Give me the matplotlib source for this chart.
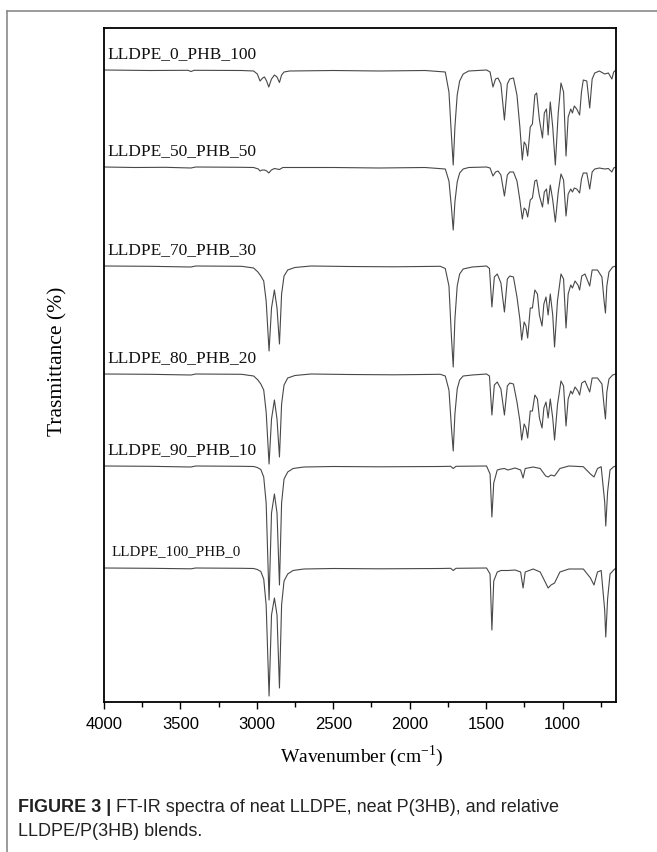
import matplotlib
matplotlib.use("Agg")
import matplotlib.pyplot as plt
from matplotlib.lines import Line2D
from matplotlib.ticker import MultipleLocator

# spectra: (wavenumber cm-1, dip depth below the trace baseline, a.u.)
phb_100 = [(4000, 0), (3700, 0.5), (3450, 0.3), (3431, 1.5), (3410, 0.3), (3100, 0.5),
           (3021, 1), (2997, 4), (2979, 11), (2962, 8), (2950, 7), (2936, 11), (2922, 17),
           (2904, 9), (2885, 5), (2868, 7), (2852, 12.5), (2838, 5), (2822, 2), (2786, 1),
           (2500, 0.5), (2200, 1), (1900, 0.5), (1767, 2), (1743, 22), (1727, 65), (1715, 95),
           (1704, 57), (1689, 25), (1673, 11), (1650, 4), (1614, 1), (1497, 0), (1474, 2),
           (1455, 17), (1438, 9), (1422, 8), (1403, 14), (1380, 50), (1361, 14), (1345, 9),
           (1321, 8), (1298, 25), (1279, 57), (1263, 90), (1251, 72), (1239, 75), (1228, 86),
           (1211, 57), (1197, 54), (1181, 25), (1169, 23), (1151, 50), (1131, 68), (1119, 43),
           (1105, 39), (1094, 65), (1080, 32), (1064, 57), (1047, 95), (1028, 43), (1010, 13),
           (993, 22), (977, 86), (963, 47), (946, 39), (935, 43), (923, 36), (907, 39),
           (888, 45), (876, 22), (864, 10), (841, 11), (822, 38), (806, 9), (789, 3),
           (759, 1), (724, 4), (700, 3), (677, 9), (665, 2), (650, 0)]

lldpe_50 = [(4000, 0), (3800, 0.5), (3600, 0.3), (3431, 1), (3400, 0), (3100, 0.3),
            (3021, 0.5), (2990, 2), (2979, 4), (2965, 3), (2950, 3), (2935, 4), (2922, 6),
            (2905, 3), (2885, 1.5), (2852, 2.5), (2830, 0.5), (2500, 0.5), (2200, 1),
            (1900, 0.5), (1767, 2), (1743, 14), (1727, 40), (1715, 63), (1704, 35), (1689, 15),
            (1673, 6), (1650, 2), (1614, 0.5), (1497, 0), (1474, 1), (1455, 9), (1438, 5),
            (1422, 4), (1403, 8), (1380, 29), (1361, 8), (1345, 5), (1321, 5), (1298, 14),
            (1279, 33), (1263, 52), (1251, 41), (1239, 43), (1228, 50), (1211, 33), (1197, 31),
            (1181, 14), (1169, 13), (1151, 29), (1131, 40), (1119, 25), (1105, 22), (1094, 37),
            (1080, 18), (1064, 33), (1047, 55), (1028, 25), (1010, 7), (993, 13), (977, 49),
            (963, 27), (946, 22), (935, 25), (923, 21), (907, 22), (888, 26), (876, 12),
            (864, 6), (841, 6), (822, 22), (806, 5), (789, 2), (759, 1), (724, 2), (700, 1.5),
            (677, 5), (665, 1), (650, 0)]

lldpe_70 = [(4000, 0), (3700, 0.3), (3431, 1), (3400, 0), (3100, 0.3), (3021, 2), (2993, 6),
            (2974, 10), (2955, 15), (2939, 35), (2920, 85), (2904, 42), (2885, 24), (2868, 42),
            (2852, 78), (2838, 28), (2822, 10), (2798, 4), (2751, 1.5), (2646, 0), (2400, 0.5),
            (2100, 0.8), (1800, 0.3), (1767, 2.5), (1743, 20), (1727, 70), (1715, 101),
            (1704, 53), (1689, 20), (1673, 8), (1650, 3), (1591, 1), (1497, 0), (1478, 2.5),
            (1462, 41), (1446, 11), (1427, 8), (1403, 17), (1380, 46), (1361, 13), (1345, 10),
            (1321, 11), (1298, 31), (1279, 53), (1267, 74), (1251, 56), (1239, 60), (1228, 72),
            (1211, 42), (1197, 42), (1181, 24), (1164, 28), (1151, 49), (1134, 60), (1122, 38),
            (1108, 31), (1094, 49), (1080, 28), (1064, 49), (1052, 81), (1033, 35), (1010, 8),
            (993, 13), (977, 62), (963, 28), (946, 19), (935, 22), (918, 15), (899, 19),
            (888, 24), (874, 10), (853, 8), (822, 20), (806, 4), (771, 4), (742, 11), (728, 35),
            (719, 47), (710, 20), (696, 6), (672, 1), (650, 0)]

lldpe_80 = [(4000, 0), (3700, 0.3), (3431, 1), (3400, 0), (3100, 0.3), (3021, 2), (2993, 6),
            (2974, 10), (2955, 16), (2939, 38), (2920, 90), (2904, 45), (2885, 26), (2868, 45),
            (2852, 83), (2838, 30), (2822, 11), (2798, 4), (2751, 1.5), (2646, 0), (2400, 0.5),
            (2100, 0.8), (1800, 0.3), (1767, 2), (1743, 16), (1727, 53), (1715, 77), (1704, 40),
            (1689, 15), (1673, 6), (1650, 2), (1591, 1), (1497, 0), (1478, 2), (1462, 41),
            (1446, 11), (1427, 8), (1403, 15), (1380, 41), (1361, 12), (1345, 9), (1321, 10),
            (1298, 28), (1279, 47), (1267, 66), (1251, 50), (1239, 54), (1228, 64), (1211, 37),
            (1197, 37), (1181, 21), (1164, 25), (1151, 44), (1134, 54), (1122, 34), (1108, 28),
            (1094, 44), (1080, 25), (1064, 44), (1052, 66), (1033, 31), (1010, 7), (993, 12),
            (977, 52), (963, 25), (946, 17), (935, 20), (918, 13), (899, 17), (888, 21),
            (874, 9), (853, 7), (822, 18), (806, 4), (771, 4), (742, 10), (728, 32), (719, 45),
            (710, 18), (696, 5), (672, 1), (650, 0)]

lldpe_90 = [(4000, 0), (3700, 0.3), (3431, 1), (3400, 0), (3100, 0.3), (3021, 0.5),
            (2997, 1.5), (2974, 3.5), (2955, 11), (2939, 37), (2920, 134), (2904, 47),
            (2885, 28), (2868, 47), (2852, 119), (2838, 37), (2822, 13), (2798, 6), (2763, 2.5),
            (2693, 1), (2500, 0.5), (2200, 0.8), (1800, 0.5), (1732, 0.3), (1715, 2.5),
            (1697, 0.3), (1497, 0), (1474, 8), (1462, 51), (1450, 17), (1427, 4), (1403, 3),
            (1380, 2.5), (1357, 4), (1310, 2), (1274, 4), (1258, 12), (1244, 2.5), (1192, 1),
            (1146, 2.5), (1110, 10), (1094, 11), (1075, 9), (1052, 10), (1017, 2.5), (958, 0),
            (864, 0.7), (817, 8), (794, 11), (771, 2.5), (747, 0.7), (724, 36), (717, 60),
            (705, 26), (689, 4), (665, 0.7), (650, 0)]

lldpe_100 = [(4000, 0), (3700, 0.3), (3431, 0.8), (3400, 0), (3100, 0.3), (3021, 0.5),
             (2997, 1.5), (2974, 3.5), (2955, 11), (2939, 37), (2920, 128), (2904, 47),
             (2885, 30), (2868, 47), (2852, 120), (2838, 37), (2822, 13), (2798, 6), (2763, 2.5),
             (2693, 1), (2500, 0.5), (2200, 0.8), (1800, 0.5), (1732, 0.3), (1715, 2.5),
             (1697, 0.3), (1497, 0), (1474, 6), (1462, 62), (1450, 13), (1427, 4), (1403, 2.5),
             (1357, 2.5), (1310, 2), (1274, 4), (1258, 20), (1244, 4), (1192, 1), (1146, 4),
             (1110, 15), (1094, 20), (1075, 17), (1052, 15), (1017, 4), (958, 1), (864, 1),
             (817, 10), (794, 17), (771, 4), (747, 2.5), (724, 42), (717, 69), (705, 31),
             (689, 6), (665, 2), (650, 0)]

spectra = [phb_100, lldpe_50, lldpe_70, lldpe_80, lldpe_90, lldpe_100]
names = ["LLDPE_0_PHB_100", "LLDPE_50_PHB_50", "LLDPE_70_PHB_30",
         "LLDPE_80_PHB_20", "LLDPE_90_PHB_10", "LLDPE_100_PHB_0"]
offsets = [632, 535, 436, 328, 236, 134]

serif = ["Liberation Serif", "DejaVu Serif"]

fig = plt.figure(figsize=(6.57, 8.52), dpi=100)
ax = fig.add_axes([104 / 657, 1 - 702 / 852, 512 / 657, 674 / 852])

for spec, name, off in zip(spectra, names, offsets):
    wn = [p[0] for p in spec]
    y = [off - p[1] for p in spec]
    ax.plot(wn, y, color="#484848", lw=0.8)
    small = name == "LLDPE_100_PHB_0"
    ax.text(3950 if small else 3975, off + 16, name, family=serif,
            fontsize=10.8 if small else 12.5, va="center", ha="left", color="#111111")

ax.set_xlim(4000, 650)
ax.set_ylim(0, 674)
ax.set_yticks([])
ax.xaxis.set_major_locator(MultipleLocator(500))
ax.xaxis.set_minor_locator(MultipleLocator(250))
ax.tick_params(axis="x", which="major", direction="out", length=5, width=1,
               labelsize=12, pad=6)
ax.tick_params(axis="x", which="minor", direction="out", length=3.5, width=1)
for lab in ax.get_xticklabels():
    lab.set_family(["Liberation Sans", "DejaVu Sans"])
for sp in ax.spines.values():
    sp.set_linewidth(1.3)

fig.text(362 / 657, 1 - 756 / 852, "Wavenumber (cm$^{\\mathregular{-1}}$)", family=serif,
         fontsize=14, ha="center", va="center")
fig.text(58 / 657, 1 - 361 / 852, "Trasmittance (%)", family=serif, fontsize=15.5,
         rotation=90, ha="center", va="center")

# caption
sans = ["Liberation Sans", "DejaVu Sans"]
cap_y1, cap_y2 = 807, 832
t1 = fig.text(18 / 657, 1 - cap_y1 / 852, "FIGURE 3 | ", family=sans, fontsize=13,
              fontweight="bold", color="#222222", va="center", ha="left")
fig.canvas.draw()
bb = t1.get_window_extent()
fig.text(bb.x1 / 657, 1 - cap_y1 / 852, "FT-IR spectra of neat LLDPE, neat P(3HB), and relative",
         family=sans, fontsize=13, color="#222222", va="center", ha="left")
fig.text(18 / 657, 1 - cap_y2 / 852, "LLDPE/P(3HB) blends.", family=sans, fontsize=13,
         color="#222222", va="center", ha="left")

# page border lines
fig.add_artist(Line2D([7 / 657, 1], [1 - 11 / 852, 1 - 11 / 852], color="#8a8a8a", lw=1.2))
fig.add_artist(Line2D([7 / 657, 7 / 657], [0, 1 - 11 / 852], color="#8a8a8a", lw=1.2))

fig.savefig("out.png", dpi=100)
